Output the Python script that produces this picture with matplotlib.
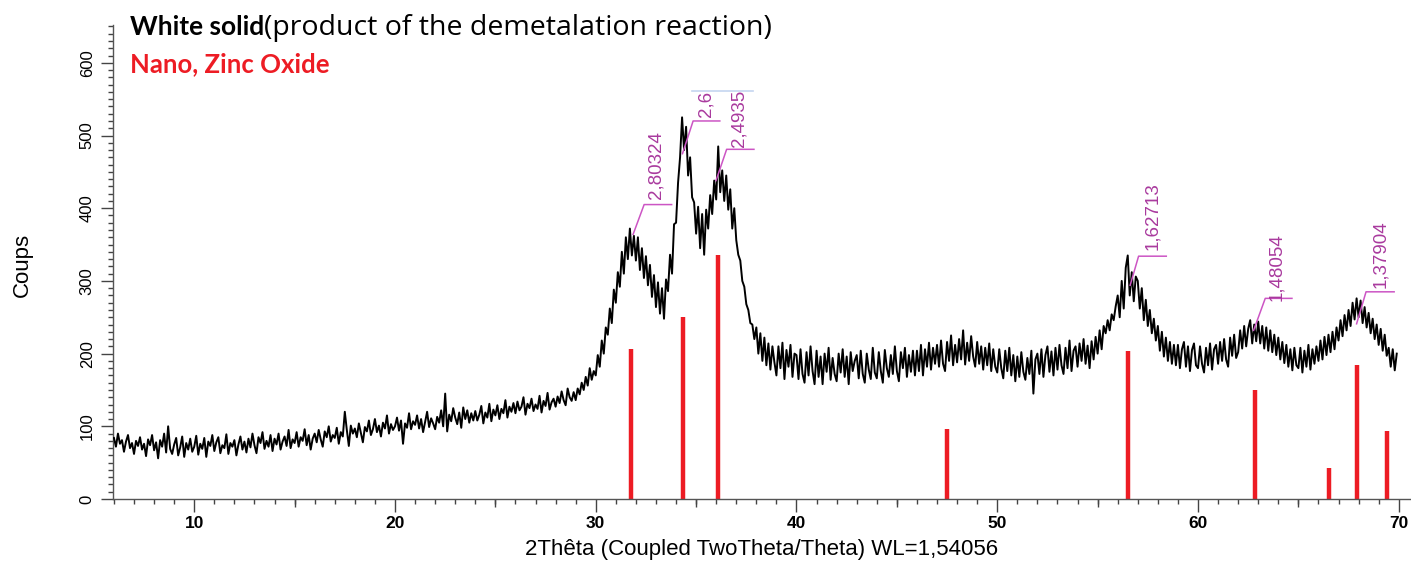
import numpy as np
import matplotlib
matplotlib.use('Agg')
import matplotlib.pyplot as plt
from matplotlib.patches import Rectangle
from matplotlib.ticker import MultipleLocator, FixedLocator

# scan: 2theta from 6.0 deg in 0.1 deg steps, one row per degree
counts = [
    84, 72, 90, 76, 81, 65, 79, 88, 70, 77,         # 6
    62, 80, 73, 85, 68, 76, 59, 82, 74, 88,         # 7
    67, 78, 56, 81, 72, 90, 64, 100, 69, 62,        # 8
    75, 84, 60, 71, 86, 58, 77, 68, 83, 65,         # 9
    72, 87, 61, 76, 69, 84, 58, 79, 73, 88,         # 10
    66, 78, 85, 63, 74, 70, 89, 62, 77, 72,         # 11
    81, 60, 75, 86, 68, 79, 64, 83, 71, 90,         # 12
    74, 63, 85, 77, 92, 69, 80, 72, 88, 66,         # 13
    83, 75, 90, 68, 79, 86, 73, 95, 70, 82,         # 14
    77, 92, 72, 85, 80, 96, 74, 88, 68, 83,         # 15
    90, 78, 95, 82, 72, 93, 85, 100, 79, 88,        # 16
    84, 98, 76, 92, 86, 120, 95, 73, 101, 90,       # 17
    97, 85, 104, 91, 78, 99, 93, 108, 88, 96,       # 18
    110, 92, 101, 86, 105, 97, 115, 90, 103, 95,    # 19
    100, 112, 94, 108, 76, 104, 98, 118, 96, 107,   # 20
    102, 115, 97, 110, 92, 106, 120, 99, 111, 104,  # 21
    96, 113, 105, 122, 100, 145, 93, 116, 107, 125, # 22
    112, 103, 119, 98, 126, 110, 122, 105, 118, 108,  # 23
    121, 108, 116, 128, 104, 119, 112, 131, 107, 123, # 24
    115, 129, 110, 124, 118, 136, 112, 127, 120, 132, # 25
    118, 134, 122, 127, 140, 116, 131, 125, 138, 121, # 26
    130, 124, 142, 119, 135, 128, 146, 123, 133, 138, # 27
    127, 141, 132, 148, 136, 129, 152, 140, 135, 147, # 28
    136, 152, 144, 160, 150, 168, 156, 180, 164, 176, # 29
    170, 198, 182, 218, 200, 236, 226, 262, 242, 288, # 30
    270, 312, 292, 340, 310, 360, 330, 372, 335, 362, # 31
    328, 360, 315, 345, 304, 334, 294, 322, 278, 308, # 32
    264, 298, 255, 290, 248, 302, 286, 336, 310, 378, # 33
    380, 435, 470, 525, 480, 512, 445, 470, 415, 408, # 34
    365, 402, 345, 392, 336, 398, 372, 418, 392, 438, # 35
    412, 485, 422, 452, 410, 445, 398, 426, 372, 400, # 36
    356, 336, 328, 300, 292, 268, 260, 242, 240, 220, # 37
    236, 200, 228, 190, 222, 184, 214, 178, 210, 188, # 38
    170, 210, 180, 215, 165, 205, 182, 212, 168, 200, # 39
    198, 165, 206, 172, 160, 202, 170, 210, 176, 158, # 40
    204, 168, 196, 158, 200, 175, 208, 164, 194, 172, # 41
    162, 200, 174, 206, 168, 196, 158, 202, 176, 190, # 42
    198, 166, 204, 172, 160, 200, 178, 165, 208, 174, # 43
    166, 202, 176, 160, 205, 180, 168, 198, 172, 210, # 44
    176, 162, 202, 180, 208, 168, 198, 175, 204, 170, # 45
    204, 176, 212, 170, 206, 182, 215, 178, 208, 186, # 46
    212, 182, 218, 186, 176, 216, 190, 225, 184, 212, # 47
    188, 220, 192, 232, 185, 215, 190, 224, 196, 182, # 48
    216, 186, 210, 178, 208, 184, 214, 176, 206, 182, # 49
    174, 206, 180, 166, 204, 176, 208, 170, 198, 162, # 50
    196, 168, 202, 175, 164, 194, 172, 204, 145, 192, # 51
    200, 172, 206, 168, 198, 210, 175, 203, 170, 208, # 52
    178, 212, 184, 172, 208, 180, 218, 176, 204, 210, # 53
    182, 214, 190, 220, 186, 211, 180, 217, 192, 223, # 54
    200, 232, 206, 238, 228, 246, 232, 254, 246, 265, # 55
    280, 250, 300, 262, 318, 335, 280, 312, 272, 306, # 56
    300, 262, 290, 246, 274, 238, 260, 228, 248, 218, # 57
    238, 204, 230, 196, 222, 190, 216, 186, 212, 184, # 58
    212, 180, 206, 216, 182, 210, 176, 205, 214, 184, # 59
    180, 210, 186, 174, 208, 184, 214, 178, 206, 212, # 60
    186, 216, 190, 220, 192, 182, 222, 197, 226, 194, # 61
    202, 232, 207, 238, 210, 234, 246, 214, 240, 217, # 62
    244, 214, 238, 207, 236, 204, 232, 202, 226, 198, # 63
    222, 192, 216, 187, 212, 182, 206, 177, 208, 184, # 64
    180, 208, 174, 204, 182, 212, 178, 206, 186, 210, # 65
    190, 218, 192, 223, 198, 226, 202, 230, 206, 236, # 66
    218, 246, 224, 253, 232, 260, 238, 270, 247, 276, # 67
    250, 273, 242, 264, 236, 256, 228, 248, 220, 240, # 68
    212, 234, 204, 226, 197, 208, 182, 206, 177, 200, # 69
]
scan_start = 6.0
scan_step = 0.1

# reference pattern (ZnO) stick positions and intensities
ref_2theta = [31.75, 34.35, 36.1, 47.5, 56.5, 62.85, 66.52, 67.94, 69.43]
ref_counts = [207, 251, 336, 96, 203, 150, 42, 185, 94]

# d-spacing labels of the picked peaks
peak_labels = ['2,80324', '2,6', '2,4935', '1,62713', '1,48054', '1,37904']
peak_2theta = [31.86, 34.32, 35.99, 56.62, 62.77, 67.90]
peak_counts = [364, 475, 438, 294, 232, 241]

# leader elbow (x, y) and label anchor (x, bottom y)
elbows = [(32.41, 405), (34.85, 520), (36.52, 481), (57.04, 334), (63.35, 276), (68.37, 285)]
leader_ends = [33.78, 36.18, 37.88, 58.42, 64.68, 69.77]
label_pos = [(33.02, 412), (35.49, 525), (37.13, 484), (57.76, 342), (63.92, 273), (69.10, 290)]

two_theta = scan_start + scan_step * np.arange(len(counts))

plt.rcParams['font.family'] = ['Liberation Sans', 'DejaVu Sans']

fig = plt.figure(figsize=(14.11, 5.67), dpi=100)
ax = fig.add_axes([0.0799, 0.1199, 0.9201, 0.836])

ax.plot(two_theta, counts, color='black', linewidth=1.4, zorder=3)
ax.vlines(ref_2theta, 0, ref_counts, color='#ed1c24', linewidth=3.2, zorder=2)

ax.set_xlim(5.94, 70.61)
ax.set_ylim(0, 652)

for s in ['top', 'right']:
    ax.spines[s].set_visible(False)
for s in ['left', 'bottom']:
    ax.spines[s].set_color('#555555')
    ax.spines[s].set_linewidth(1.0)

ax.xaxis.set_major_locator(MultipleLocator(10))
ax.xaxis.set_minor_locator(MultipleLocator(1))
ax.yaxis.set_major_locator(MultipleLocator(100))
ax.yaxis.set_minor_locator(MultipleLocator(10))
ax.tick_params(axis='both', which='major', direction='out', length=9, width=1.0, color='#444444')
ax.tick_params(axis='both', which='minor', direction='out', length=3.6, width=1.0, color='#444444')
ax.tick_params(axis='x', which='major', pad=3, labelsize=12.5)
ax.tick_params(axis='y', which='major', pad=4, labelsize=12)
for lab in ax.get_xticklabels():
    lab.set_fontweight('bold')
for lab in ax.get_yticklabels():
    lab.set_rotation(90)
    lab.set_va('center')

# mid-decade ticks on the 2theta axis
sec = ax.secondary_xaxis('bottom')
sec.xaxis.set_major_locator(FixedLocator([15, 25, 35, 45, 55, 65]))
sec.tick_params(length=6, width=1.0, color='#444444', labelbottom=False)
sec.spines['bottom'].set_visible(False)

ax.set_xlabel('2Thêta (Coupled TwoTheta/Theta) WL=1,54056', fontsize=16, labelpad=6)
fig.text(22 / 1411, 1 - 265 / 567, 'Coups', rotation=90, fontsize=16,
         ha='center', va='center')

# peak labels with leaders, clipped at the top of the label area
clip = Rectangle((5.94, 0), 70, 561, transform=ax.transData)
ax.plot([34.8, 37.83], [561, 561], color='#c5d5f0', linewidth=1.2, clip_on=False)
for lab, px, py, (ex, ey), lx, (tx, ty) in zip(peak_labels, peak_2theta, peak_counts,
                                             elbows, leader_ends, label_pos):
    ax.plot([px, ex, lx], [py, ey, ey], color='#cc55c4', linewidth=1.1, zorder=4, clip_on=False)
    t = ax.text(tx, ty, lab, rotation=90, ha='center', va='bottom', fontsize=13.5,
                color='#a93a9e', zorder=4)
    t.set_clip_path(clip)

# heading: bold part, then the plain part on the same baseline
head_x = 130 / 1411
head_y = 1 - 35 / 567
t1 = fig.text(head_x, head_y, 'White solid', fontsize=19, fontweight='bold',
              family='Lato', va='baseline')
fig.canvas.draw()
bb = t1.get_window_extent(renderer=fig.canvas.get_renderer())
fig.text(bb.x1 / fig.bbox.width, head_y, '(product of the demetalation reaction)',
         fontsize=20.5, family='Open Sans', va='baseline', ha='left')
fig.text(head_x, 1 - 72 / 567, 'Nano, Zinc Oxide', fontsize=18.5, fontweight='bold',
         family='Lato', color='#ed1c24', va='baseline')

fig.savefig('out.png', dpi=100)
